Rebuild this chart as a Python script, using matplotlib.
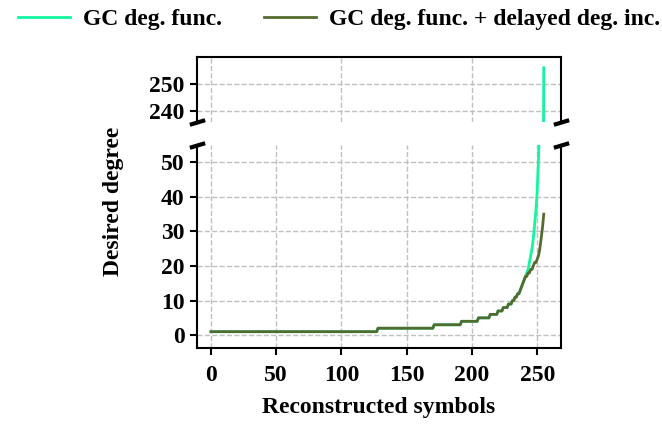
import matplotlib.pyplot as plt


# green: GC degree function, breakpoints (symbol index, degree)
gc_x = [0, 127, 128, 170, 171, 191, 192, 204, 205, 213, 214, 219, 220, 223, 224,
        227, 228, 230, 231, 232, 233, 234, 235, 236, 237, 238, 239, 240, 241, 242,
        243, 244, 245, 246, 247, 248, 249, 250, 251, 252, 253, 254, 255]
gc_y = [1, 1, 2, 2, 3, 3, 4, 4, 5, 5, 6, 6, 7, 7, 8,
        8, 9, 9, 10, 10, 11, 11, 12, 12, 13, 14, 15, 16, 17, 18,
        19, 21, 23, 25, 28, 32, 36, 42, 51, 64, 85, 128, 256]

# olive: GC degree function + delayed degree increase
dl_x = [0, 127, 128, 170, 171, 191, 192, 204, 205, 213, 214, 219, 220, 223, 224,
        227, 228, 230, 231, 232, 233, 234, 235, 236, 237, 238, 239, 240, 241, 242,
        243, 244, 245, 246, 247, 248, 249, 250, 251, 252, 253, 254, 255]
dl_y = [1, 1, 2, 2, 3, 3, 4, 4, 5, 5, 6, 6, 7, 7, 8,
        8, 9, 9, 10, 10, 11, 11, 12, 12, 13, 14, 15, 16, 17, 17,
        18, 18, 19, 19, 20, 21, 21, 22, 23, 25, 28, 31, 35]

labels = ['GC deg. func.', 'GC deg. func. + delayed deg. inc.']
green, olive = '#14f5a0', '#536b2f'

plt.rcParams['font.family'] = 'Liberation Serif'
plt.rcParams['font.weight'] = 'bold'
plt.rcParams['font.size'] = 17

fig = plt.figure(figsize=(6.62, 4.24), dpi=100)
ax_top = fig.add_axes([0.2976, 0.7123, 0.5494, 0.1533])
ax_bot = fig.add_axes([0.2976, 0.179, 0.5494, 0.479])

for ax in (ax_top, ax_bot):
    ax.plot(gc_x, gc_y, color=green, lw=2, label=labels[0])
    ax.plot(dl_x, dl_y, color=olive, lw=2, label=labels[1])
    ax.set_xlim(-10.7, 268)
    ax.grid(True, ls='--', color='#c0c0c0', lw=1)
    for s in ax.spines.values():
        s.set_linewidth(1.5)
    ax.tick_params(width=1.5, length=5, labelsize=17, pad=4)
    for t in ax.get_xticklabels() + ax.get_yticklabels():
        t.set_fontweight('bold')

ax_top.set_ylim(236, 260)
ax_top.set_yticks([240, 250])
ax_top.spines['bottom'].set_visible(False)
ax_top.tick_params(axis='x', bottom=False, labelbottom=False)

ax_bot.set_ylim(-3.75, 55)
ax_bot.set_yticks([0, 10, 20, 30, 40, 50])
ax_bot.set_xticks([0, 50, 100, 150, 200, 250])
ax_bot.tick_params(axis='x', pad=7)
ax_bot.spines['top'].set_visible(False)
ax_bot.set_xlabel('Reconstructed symbols', fontweight='bold', fontsize=17, labelpad=8)
fig.text(0.171, 0.525, 'Desired degree', rotation=90, ha='center', va='center',
         fontweight='bold', fontsize=17)

# break marks
kw = dict(marker=[(-1, -0.3), (1, 0.3)], markersize=11, linestyle='none',
          color='k', mec='k', mew=3, clip_on=False)
ax_top.plot([0, 1], [0, 0], transform=ax_top.transAxes, **kw)
ax_bot.plot([0, 1], [1, 1], transform=ax_bot.transAxes, **kw)

handles, _ = ax_bot.get_legend_handles_labels()
fig.legend(handles, labels, ncol=2, loc='upper left', bbox_to_anchor=(-0.005, 1.03),
           frameon=False, handlelength=2.2, handletextpad=0.55, columnspacing=1.8,
           prop={'family': 'Liberation Serif', 'weight': 'bold', 'size': 17})

plt.savefig('out.png', dpi=100)
